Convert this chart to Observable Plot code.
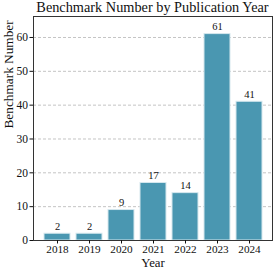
<!DOCTYPE html>
<html><head><meta charset="utf-8">
<script src="https://cdn.jsdelivr.net/npm/d3@7"></script>
<script src="https://cdn.jsdelivr.net/npm/@observablehq/plot@0.6"></script>
<style>
body{margin:0;background:#fff;font-family:"Liberation Serif","Times New Roman",serif;}
#title{width:239px;margin-left:33px;height:15px;line-height:15px;text-align:center;font-size:14.3px;color:#111;white-space:nowrap;}
#chart svg, #chart svg text{font-family:"Liberation Serif","Times New Roman",serif !important;}
</style></head>
<body>
<div id="title">Benchmark Number by Publication Year</div>
<div id="chart"></div>
<script>
const years = ["2018","2019","2020","2021","2022","2023","2024"];
const counts = [2, 2, 9, 17, 14, 61, 41];
const yTicks = [0, 10, 20, 30, 40, 50, 60];
const data = years.map((y, i) => ({year: y, count: counts[i]}));

const chart = Plot.plot({
  width: 273, height: 255,
  marginLeft: 33, marginRight: 1, marginTop: 1, marginBottom: 30,
  style: {fontFamily: "Liberation Serif", fontSize: "11.5px", color: "#111", background: "white"},
  x: {type: "band", domain: years, paddingInner: 0.2, paddingOuter: 0.3, label: null},
  y: {domain: [0, 66.2], label: null},
  marks: [
    Plot.gridY(yTicks, {stroke: "#c4c4c4", strokeOpacity: 1, strokeDasharray: "3,2"}),
    Plot.barY(data, {x: "year", y: "count", fill: "#4a97b1", stroke: "#d6e8ee", strokeWidth: 1}),
    Plot.text(data, {x: "year", y: "count", text: d => String(d.count), dy: -4, lineAnchor: "bottom", fontSize: 10.5, fill: "#111"}),
    Plot.frame({stroke: "#333"}),
    Plot.axisX({tickSize: 3.5, tickPadding: 1.5, fontSize: 11.2, label: null}),
    Plot.axisY(yTicks, {tickSize: 3.5, tickPadding: 2, fontSize: 11.5, label: null}),
    Plot.text(["Benchmark Number"], {frameAnchor: "left", dx: -25, rotate: -90, fontSize: 13.3, fill: "#111"}),
    Plot.text(["Year"], {frameAnchor: "bottom", dy: 22.5, lineAnchor: "middle", fontSize: 12.8, fill: "#111"})
  ]
});
document.getElementById("chart").appendChild(chart);
</script>
</body></html>
